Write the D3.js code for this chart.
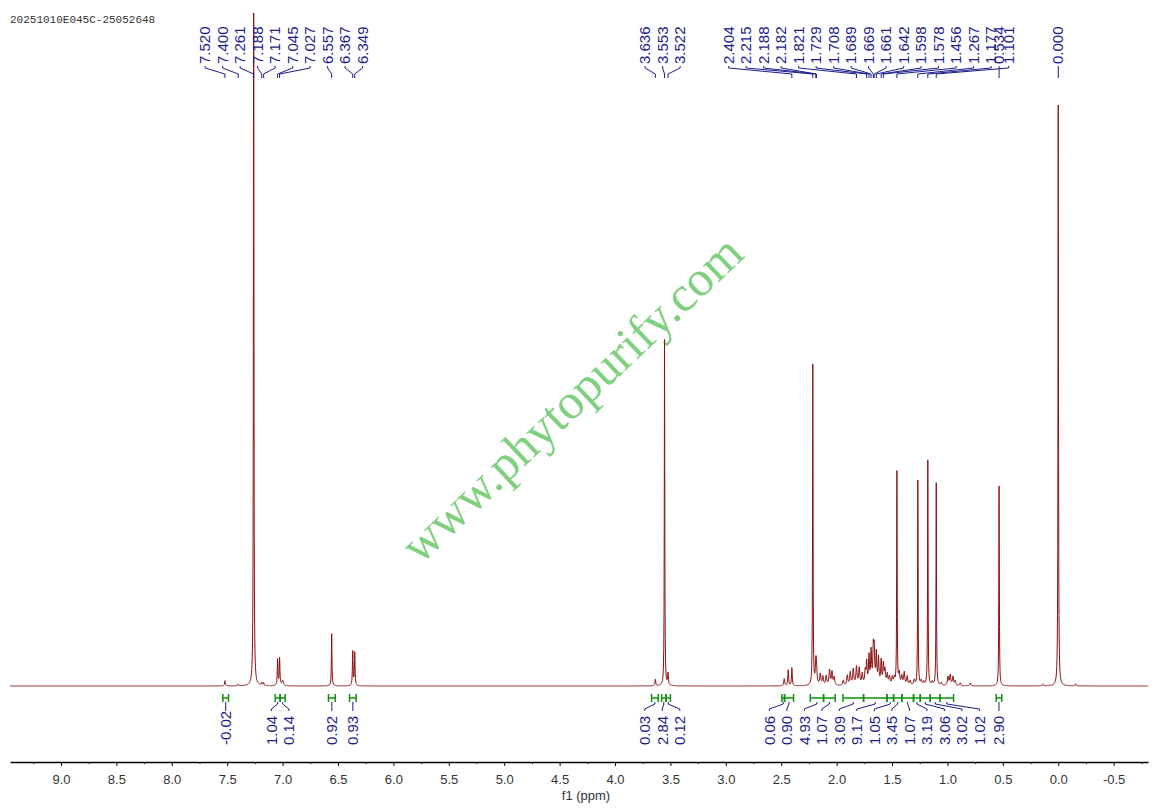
<!DOCTYPE html>
<html><head><meta charset="utf-8">
<script src="https://cdn.jsdelivr.net/npm/d3@7"></script>
<style>body{margin:0;background:#fff;} svg{display:block;}</style>
</head><body><svg id="c" width="1157" height="811"></svg>
<script>
const title = "20251010E045C-25052648";
const xLabel = "f1 (ppm)";
const watermark = "www.phytopurify.com";

// spectrum peaks: shift (ppm), height (TMS = 100), half width (ppm)
const peakPpm = [7.520,7.400,7.261,7.188,7.171,7.045,7.027,7.000,6.557,6.367,6.349,
  3.636,3.553,3.522,
  2.473,2.437,2.404,2.215,2.188,2.182,2.148,2.124,2.094,2.064,2.042,2.022,
  1.940,1.904,1.877,1.850,1.821,1.796,1.769,1.742,1.729,1.708,1.689,1.669,1.661,1.642,1.622,1.598,1.578,1.564,1.543,1.523,1.498,1.480,
  1.456,1.435,1.412,1.390,1.363,1.336,1.300,1.267,1.236,1.214,1.177,1.137,1.101,1.056,
  0.995,0.975,0.950,0.930,0.885,0.794,0.534,0.140,0.000,-0.155];
const peakHeight = [0.9,0.3,140,0.5,0.5,4.5,4.7,0.9,9.0,5.9,5.7,
  1.1,59.6,2.0,
  1.2,2.7,3.1,55.2,3.5,2.8,1.9,1.5,1.6,2.6,2.3,1.4,
  0.9,1.7,2.2,2.7,3.1,2.9,1.9,2.3,3.7,4.8,5.6,5.8,5.5,5.3,4.5,4.1,3.4,2.5,1.8,1.4,1.3,1.2,
  36.7,2.0,1.5,2.2,1.5,0.8,0.9,35.3,0.8,0.6,38.8,0.6,34.9,0.5,
  1.5,1.8,1.5,0.8,0.5,0.5,34.4,0.35,100,0.35];
const peakWidth = [0.004,0.004,0.0025,0.004,0.004,0.0035,0.0035,0.008,0.003,0.0035,0.0035,
  0.004,0.0025,0.004,
  0.005,0.004,0.004,0.0025,0.005,0.005,0.006,0.006,0.006,0.006,0.006,0.006,
  0.006,0.006,0.006,0.006,0.006,0.006,0.006,0.006,0.005,0.005,0.005,0.005,0.005,0.005,0.005,0.005,0.005,0.006,0.006,0.006,0.006,0.006,
  0.0025,0.006,0.006,0.006,0.006,0.006,0.006,0.0025,0.006,0.006,0.0025,0.006,0.0025,0.006,
  0.006,0.006,0.006,0.006,0.006,0.006,0.0025,0.005,0.0025,0.005];

// peak labels, grouped as in the picture
const peakLabelGroups = [
  [7.520,7.400,7.261,7.188,7.171,7.045,7.027,6.557,6.367,6.349],
  [3.636,3.553,3.522],
  [2.404,2.215,2.188,2.182,1.821,1.729,1.708,1.689,1.669,1.661,1.642,1.598,1.578,1.456,1.267,1.177,1.101],
  [0.534],
  [0.000]
];

// integrals
const intFrom  = [7.539,7.067,7.022,6.586,6.396,3.67,3.58,3.54,2.494,2.470,2.238,2.118,1.943,1.757,1.546,1.486,1.411,1.306,1.245,1.155,1.065,0.56];
const intTo    = [7.488,7.022,6.977,6.525,6.336,3.61,3.54,3.50,2.470,2.389,2.118,2.013,1.757,1.546,1.486,1.411,1.306,1.245,1.155,1.065,0.945,0.51];
const intValue = [-0.02,1.04,0.14,0.92,0.93,0.03,2.84,0.12,0.06,0.90,4.93,1.07,3.09,9.17,1.05,3.45,1.07,3.19,3.06,3.02,1.02,2.90];

const majorTicks = [9.0,8.5,8.0,7.5,7.0,6.5,6.0,5.5,5.0,4.5,4.0,3.5,3.0,2.5,2.0,1.5,1.0,0.5,0.0,-0.5];
const minorTicks = [9.25,8.75,8.25,7.75,7.25,6.75,6.25,5.75,5.25,4.75,4.25,3.75,3.25,2.75,2.25,1.75,1.25,0.75,0.25,-0.25,-0.75];

const x = d3.scaleLinear().domain([9.46,-0.81]).range([10,1148]);
const y = d3.scaleLinear().domain([0,100]).range([686,105]);
const loc = d3.formatLocale({decimal:".",thousands:",",grouping:[3],currency:["",""],minus:"-"});
const f1 = loc.format(".1f"), f2 = loc.format(".2f"), f3 = loc.format(".3f");
const svg = d3.select("#c");
const SANS = "'Liberation Sans', Arial, sans-serif";
const BLUE = "#1c1c8e";

// title
svg.append("text").attr("x",10).attr("y",23)
  .attr("font-family","'Liberation Mono', monospace").attr("font-size",11).attr("fill","#333")
  .text(title);

// watermark
svg.append("text").attr("transform","translate(583,411) rotate(-43.5)")
  .attr("text-anchor","middle").attr("font-family","'Liberation Serif','Times New Roman',serif")
  .attr("font-size",50).attr("fill","#7fd07f").text(watermark);

// spectrum
svg.append("clipPath").attr("id","clip").append("rect")
  .attr("x",10).attr("y",13).attr("width",1138).attr("height",700);
const samples = [];
for (let px = 10; px <= 1148; px += 0.25) samples.push(x.invert(px));
peakPpm.forEach(p => samples.push(p));
samples.sort((a,b) => b - a);
function intensity(d){
  let s = 0;
  for (let i = 0; i < peakPpm.length; i++){
    const u = (d - peakPpm[i]) / peakWidth[i];
    s += peakHeight[i] / (1 + u*u);
  }
  return s;
}
const line = d3.line().x(d => x(d)).y(d => y(intensity(d)));
svg.append("path").datum(samples).attr("clip-path","url(#clip)")
  .attr("d",line).attr("fill","none").attr("stroke","#8b1010").attr("stroke-width",1);

// label spreading
function spread(desired, gap){
  let cl = desired.map(d => ({n:1,sum:d}));
  let changed = true;
  while (changed){
    changed = false;
    for (let k = 0; k < cl.length-1; k++){
      const a = cl[k], b = cl[k+1];
      const aEnd = a.sum/a.n + (a.n-1)/2*gap;
      const bStart = b.sum/b.n - (b.n-1)/2*gap;
      if (bStart - aEnd < gap){ a.n += b.n; a.sum += b.sum; cl.splice(k+1,1); changed = true; break; }
    }
  }
  const out = [];
  cl.forEach(c => { const m = c.sum/c.n; for (let j = 0; j < c.n; j++) out.push(m + (j-(c.n-1)/2)*gap); });
  return out;
}

// peak labels
const gP = svg.append("g");
peakLabelGroups.forEach(grp => {
  const px = grp.map(p => x(p));
  const m = d3.mean(px);
  grp.forEach((p,i) => {
    const lx = m + (i-(grp.length-1)/2)*17.5;
    gP.append("text").attr("transform",`translate(${lx},64) rotate(-90)`)
      .attr("dy","0.35em").attr("font-family",SANS).attr("font-size",15).attr("fill",BLUE)
      .text(f3(p));
    gP.append("path").attr("d",`M${lx},66V68L${px[i]},74V78`)
      .attr("fill","none").attr("stroke",BLUE).attr("stroke-width",1);
  });
});

// integrals
const gI = svg.append("g");
const centers = intFrom.map((f,i) => (x(f)+x(intTo[i]))/2);
const lxs = spread(centers, 17.5);
intValue.forEach((v,i) => {
  const a = x(intFrom[i]), b = x(intTo[i]), c = centers[i], lx = lxs[i];
  gI.append("path").attr("d",`M${a},694V702M${a},698H${b}M${b},694V702`)
    .attr("fill","none").attr("stroke","#109010").attr("stroke-width",1.5);
  gI.append("path").attr("d",`M${c},702V704L${lx},709V711`)
    .attr("fill","none").attr("stroke",BLUE).attr("stroke-width",1);
  gI.append("text").attr("transform",`translate(${lx},745) rotate(-90)`)
    .attr("dy","0.35em").attr("font-family",SANS).attr("font-size",15).attr("fill",BLUE)
    .text(f2(v));
});

// axis
const axis = d3.axisBottom(x).tickValues(majorTicks).tickFormat(f1)
  .tickSize(4).tickSizeOuter(0).tickPadding(9);
const gA = svg.append("g").attr("transform","translate(0,762)").call(axis);
gA.select(".domain").attr("stroke","#000").attr("stroke-width",1.5);
gA.selectAll(".tick line").attr("stroke","#000");
gA.selectAll("text").attr("font-family",SANS).attr("font-size",13).attr("fill","#333");
const minor = d3.axisBottom(x).tickValues(minorTicks).tickFormat("").tickSize(2).tickSizeOuter(0);
const gM = svg.append("g").attr("transform","translate(0,762)").call(minor);
gM.select(".domain").remove();
gM.selectAll(".tick line").attr("stroke","#000");
svg.append("text").attr("x",586).attr("y",800).attr("text-anchor","middle")
  .attr("font-family",SANS).attr("font-size",13).attr("fill","#333").text(xLabel);
</script></body></html>
